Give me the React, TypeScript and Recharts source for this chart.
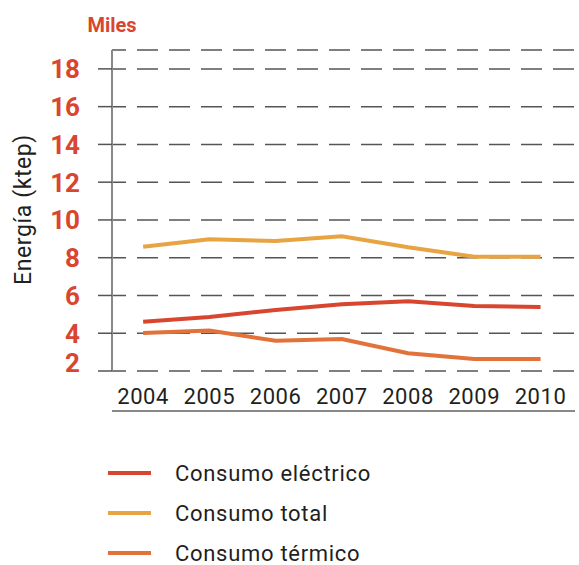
import { LineChart, Line, XAxis, YAxis, CartesianGrid, Legend, Label } from "recharts";

const years = ["2004", "2005", "2006", "2007", "2008", "2009", "2010"];
const consumoElectrico = [4.61, 4.86, 5.23, 5.53, 5.7, 5.44, 5.39];
const consumoTotal = [8.58, 8.98, 8.88, 9.14, 8.55, 8.05, 8.05];
const consumoTermico = [4.01, 4.15, 3.6, 3.69, 2.94, 2.63, 2.63];
const yTicks = [2, 4, 6, 8, 10, 12, 14, 16, 18];

const RED = "#d8462f";
const YELLOW = "#e8a443";
const ORANGE = "#e2723a";
const TEXT = "#231f20";
const FONT = "Roboto, 'DejaVu Sans', sans-serif";

const data = years.map((year, i) => ({
  i,
  year,
  electrico: consumoElectrico[i],
  total: consumoTotal[i],
  termico: consumoTermico[i],
}));

const xDomain: [number, number] = [-0.47, 6.52];
const boundaryTicks = years.map((_, i) => i + 0.5);
const centerTicks = years.map((_, i) => i);

function YTick(props: any) {
  const { x, y, payload } = props;
  const shift = payload.value === 2 ? -8 : 0;
  return (
    <text x={x} y={y + shift} dy="0.36em" textAnchor="end" fill={RED} fontSize={26} fontWeight={700} fontFamily={FONT}>
      {payload.value}
    </text>
  );
}

function LegendContent(props: any) {
  const items = props.payload || [];
  return (
    <div style={{ fontFamily: FONT }}>
      {items.map((item: any) => (
        <div key={item.value} style={{ display: "flex", alignItems: "center", height: 40 }}>
          <svg width={43} height={6} style={{ marginRight: 24 }}>
            <line x1={0} y1={3} x2={43} y2={3} stroke={item.color} strokeWidth={4} />
          </svg>
          <span style={{ fontSize: 22, letterSpacing: 0.7, color: TEXT }}>{item.value}</span>
        </div>
      ))}
    </div>
  );
}

export default function App() {
  return (
    <div style={{ position: "absolute", left: 0, top: 0, background: "#fff" }}>
      <LineChart width={579} height={565} data={data} margin={{ top: 50, right: 4, left: 0, bottom: 140 }}>
        <CartesianGrid
          vertical={false}
          stroke="#555"
          strokeWidth={1.5}
          strokeDasharray="21 11"
          strokeDashoffset={7}
          yAxisId="y"
          xAxisId="m"
        />
        <XAxis
          xAxisId="m"
          dataKey="i"
          type="number"
          domain={xDomain}
          allowDataOverflow
          ticks={boundaryTicks}
          tick={false}
          tickSize={14}
          height={14}
          axisLine={{ stroke: "#888", strokeWidth: 2 }}
          tickLine={{ stroke: "#777", strokeWidth: 1.5 }}
        />
        <XAxis
          xAxisId="l"
          dataKey="i"
          type="number"
          domain={xDomain}
          allowDataOverflow
          ticks={centerTicks}
          tickFormatter={(v: number) => years[v]}
          axisLine={false}
          tickLine={false}
          tickSize={0}
          tickMargin={17}
          height={40}
          tick={{ fill: TEXT, fontSize: 22, fontWeight: 400, letterSpacing: 0.6, fontFamily: FONT }}
        />
        <YAxis
          yAxisId="y"
          type="number"
          domain={[2, 19]}
          ticks={yTicks}
          width={112}
          tickSize={14}
          tickMargin={18}
          tick={<YTick />}
          axisLine={{ stroke: "#888", strokeWidth: 2 }}
          tickLine={{ stroke: "#555", strokeWidth: 1.5 }}
        >
          <Label
            content={(p: any) => {
              const vb = p.viewBox;
              const cx = 23;
              const cy = vb.y + vb.height / 2 - 1;
              return (
                <text x={cx} y={cy} transform={`rotate(-90 ${cx} ${cy})`} textAnchor="middle" dominantBaseline="central" fill={TEXT} fontSize={23} fontWeight={400} letterSpacing={0.6} fontFamily={FONT}>
                  Energía (ktep)
                </text>
              );
            }}
          />
          <Label
            content={(p: any) => {
              const vb = p.viewBox;
              return (
                <text x={vb.x + vb.width} y={32} textAnchor="middle" fill={RED} fontSize={20} fontWeight={700} fontFamily={FONT}>
                  Miles
                </text>
              );
            }}
          />
        </YAxis>
        <Legend
          layout="vertical"
          align="center"
          verticalAlign="middle"
          content={<LegendContent />}
          wrapperStyle={{ top: 453, left: 108, width: 320 }}
        />
        <Line xAxisId="l" yAxisId="y" dataKey="electrico" name="Consumo eléctrico" stroke={RED} strokeWidth={4} dot={false} isAnimationActive={false} />
        <Line xAxisId="l" yAxisId="y" dataKey="total" name="Consumo total" stroke={YELLOW} strokeWidth={4} dot={false} isAnimationActive={false} />
        <Line xAxisId="l" yAxisId="y" dataKey="termico" name="Consumo térmico" stroke={ORANGE} strokeWidth={4} dot={false} isAnimationActive={false} />
      </LineChart>
    </div>
  );
}
